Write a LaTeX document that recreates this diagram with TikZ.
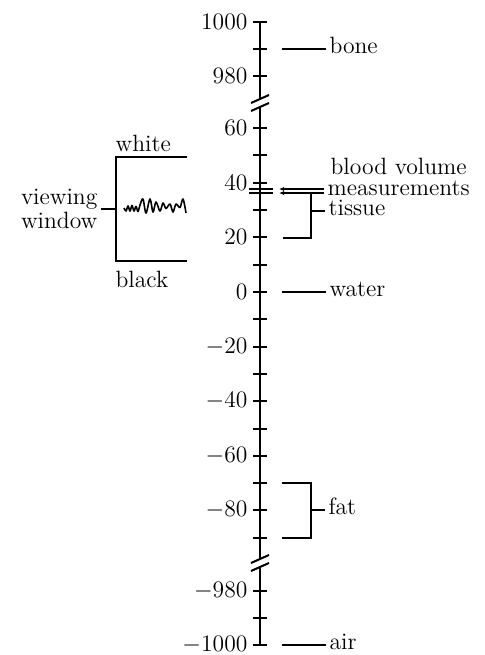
\documentclass[tikz,border=0pt]{standalone}
\usepackage{tikz}
\usetikzlibrary{arrows.meta}
\tikzset{every picture/.style={line width=0.6pt}}
\tikzset{lbl/.style={inner xsep=1.5pt, inner ysep=0pt, font=\fontsize{11.8}{12}\selectfont},
  axisline/.style={line width=1pt},
  tickmark/.style={line width=1pt},
  tip/.style={-{Latex[length=2.6pt,width=2.2pt]}}}

\begin{document}
\begin{tikzpicture}[x=0.5pt,y=0.5pt,yscale=-1,xscale=1]
\useasboundingbox (0,0) rectangle (485,655);

%Axis with two breaks
\coordinate (top) at (260,22);
\coordinate (brkA) at (260,99);
\coordinate (brkB) at (260,107);
\coordinate (brkC) at (260,559);
\coordinate (brkD) at (260,567);
\coordinate (bot) at (260,645);
\draw [axisline] (top) -- (brkA) (brkB) -- (brkC) (brkD) -- (bot) ;
\foreach \c in {brkA,brkB,brkC,brkD}
  \draw [axisline] ([shift={(-9,4)}]\c) -- ([shift={(9,-4)}]\c) ;

%Ticks
\foreach \ty in {49,155,210,265,319,374,429,483,538,618}
  \draw [tickmark] (253,\ty) -- (267,\ty) ;
\foreach \ty/\num in {22/1000,76/980,128/60,183/40,237/20,292/0,347/{$-$20},401/{$-$40},456/{$-$60},510/{$-$80},591/{$-$980},645/{$-$1000}}
  {\draw [tickmark] (253,\ty) -- (267,\ty) ;
   \node [lbl, anchor=east] (n\ty) at (251,\ty) {\num};}
%Blood volume marks on the axis
\draw (249,189) -- (273,189) ;
\draw (249,193) -- (273,193) ;

% Text Node
\node [lbl, anchor=mid west] (bone) at (326,49) {bone};
% Text Node
\node [lbl, anchor=mid west] (water) at (326,292) {water};
% Text Node
\node [lbl, anchor=mid west] (air) at (326,645) {air};
% Text Node
\node [lbl, anchor=mid west] (fat) at (325,510) {fat};
% Text Node
\node [lbl, anchor=mid west] (tissue) at (325,211) {tissue};
% Text Node
\node [lbl, anchor=base west] (bvb) at (327,174) {blood volume};
% Text Node
\node [lbl, anchor=base west] (bvm) at (324,195) {measurements};
% Text Node
\node [lbl, align=right, anchor=east] (vw) at (101,209) {viewing\\window};
% Text Node
\node [lbl, anchor=base west] (white) at (112,151) {white};
% Text Node
\node [lbl, anchor=base west] (black) at (112,287) {black};

%Leader lines
\coordinate (boneL) at (282,49);
\coordinate (waterL) at (282,292);
\coordinate (airL) at (282,645);
\draw (bone.mid west) -- (boneL) ;
\draw (water.mid west) -- (waterL) ;
\draw (air.mid west) -- (airL) ;

%Blood volume arrows
\coordinate (bv1) at (279,189);
\coordinate (bv2) at (279,193);
\draw [tip] (bvm.west |- bv1) -- (bv1) ;
\draw [tip] (bvm.west |- bv2) -- (bv2) ;

%Tissue bracket
\coordinate (tisT) at (311,193);
\coordinate (tisBR) at (311,238);
\coordinate (tisB) at (283,238);
\draw (tisT) -- (tisBR) -- (tisB) ;
\draw (tissue.mid west) -- (tissue.mid west -| tisT) ;

%Fat bracket
\coordinate (fatT) at (282,483);
\coordinate (fatTR) at (311,483);
\coordinate (fatBR) at (311,538);
\coordinate (fatB) at (282,538);
\draw (fatT) -- (fatTR) -- (fatBR) -- (fatB) ;
\draw (fat.mid west) -- (fat.mid west -| fatTR) ;

%Viewing window bracket
\coordinate (vwTR) at (187,157);
\coordinate (vwTL) at (116,157);
\coordinate (vwBL) at (116,261);
\coordinate (vwBR) at (187,261);
\draw (vwTR) -- (vwTL) -- (vwBL) -- (vwBR) ;
\draw (vw.east) -- (vw.east -| vwTL) ;

%Signal squiggle
\draw [line width=0.8pt, line join=round] plot [smooth, tension=0.55] coordinates {(124,208) (126,211) (128,206) (130,211) (132,205.5) (134,211) (136,206.5) (138,211.5) (140,205) (143,199) (146,213) (150,199) (153,212) (156,202) (160,211) (163,203) (166,208.5) (170,204) (173,212) (176,204) (180,207.5) (183,199) (186,213)};

\end{tikzpicture}
\end{document}
